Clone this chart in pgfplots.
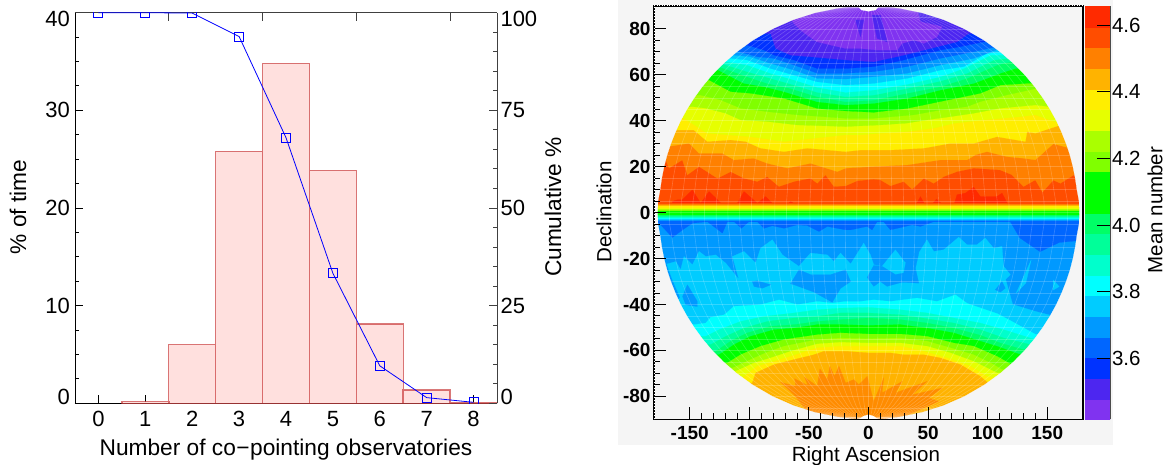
\documentclass[border=0pt]{standalone}
\usepackage{fontspec}
\setmainfont{Liberation Sans}
\usepackage{pgfplots}
\pgfplotsset{compat=1.18}
\usepackage{pgfplotstable}
\definecolor{bgg}{HTML}{F5F5F5}
\definecolor{barf}{HTML}{FFE0DE}
\definecolor{bare}{HTML}{C02020}
\definecolor{cA}{HTML}{8033F0}
\definecolor{cB}{HTML}{4D26F0}
\definecolor{cC}{HTML}{0033FF}
\definecolor{cD}{HTML}{0066FF}
\definecolor{cE}{HTML}{0099FF}
\definecolor{cF}{HTML}{00CCFF}
\definecolor{cG}{HTML}{00FFFF}
\definecolor{cH}{HTML}{00FFCC}
\definecolor{cI}{HTML}{00FF99}
\definecolor{cJ}{HTML}{00FF66}
\definecolor{cK}{HTML}{00FF00}
\definecolor{cL}{HTML}{00FF00}
\definecolor{cM}{HTML}{80FF00}
\definecolor{cN}{HTML}{AAFF00}
\definecolor{cO}{HTML}{E6FF00}
\definecolor{cP}{HTML}{FFEE00}
\definecolor{cQ}{HTML}{FFB300}
\definecolor{cR}{HTML}{FF8000}
\definecolor{cS}{HTML}{FF4D00}
\definecolor{cT}{HTML}{FF2A00}
\definecolor{cStar}{HTML}{FF8C00}
\newcommand\poly[2]{\addplot[fill=#1,draw=#1,line width=0.2pt,forget plot] coordinates {#2} --cycle;}
\newcommand\strip[3]{\addplot[fill=#1,draw=none,forget plot] coordinates {(-180,#2)(180,#2)(180,#3)(-180,#3)} --cycle;}
\pgfplotstableread{
x y
0 -90
26 -89
45 -87
63.2 -84
80.7 -80
97.3 -75
110.6 -70
121.7 -65
131.2 -60
139.3 -55
146.3 -50
152.4 -45
157.7 -40
162.1 -35
165.9 -30
169.1 -25
171.6 -20
173.5 -15
174.9 -10
176.7 -5
177 0
176.7 5
174.9 10
173.5 15
171.6 20
169.1 25
165.9 30
162.1 35
157.7 40
152.4 45
146.3 50
139.3 55
131.2 60
121.7 65
110.6 70
97.3 75
80.7 80
63.2 84
45 87
26 89
0 90
}\outline
\begin{document}
\begin{tikzpicture}[x=1pt,y=1pt]
\path[use as bounding box] (0,0) rectangle (1171,465);
\fill[bgg] (618,20) rectangle (1113,465);
% ---- left panel: bars
\begin{axis}[at={(75pt,61.7pt)},anchor=south west,scale only axis,width=422pt,height=390.6pt,
  xmin=-0.5,xmax=8.5,ymin=0,ymax=40,axis x line*=bottom,axis y line*=left,
  axis line style={black,line width=0.9pt},tick align=inside,
  xtick={0,1,2,3,4,5,6,7,8},xticklabels={0,1,2,3,4,5,6,7,8},
  ytick={0,10,20,30,40},yticklabels={\raisebox{0pt}[16pt][14pt]{0},10,20,30,\raisebox{0pt}[28pt][0pt]{40}},
  minor y tick num=3,
  major tick length=8pt,minor tick length=4.5pt,
  tick style={black,line width=0.9pt},
  tick label style={font=\fontsize{22}{26}\selectfont},
  label style={font=\fontsize{22.7}{27}\selectfont},
  xticklabel style={yshift=-8pt,inner ysep=0pt},yticklabel style={xshift=-1.5pt},
  xlabel={Number of co\kern0.5pt−\kern0.5ptpointing observatories},
  xlabel style={at={(axis description cs:0.5,-0.1195)},anchor=center,inner ysep=0pt},
  ylabel={\% of time},
  ylabel style={at={(axis description cs:-0.135,0.5026)},anchor=center},
]
\addplot[ybar,bar width=47pt,bar shift=0pt,fill=barf,draw=bare,draw opacity=0.6,line width=1.5pt]
 coordinates {(1,0.17)(2,6.0)(3,25.8)(4,34.8)(5,23.85)(6,8.1)(7,1.35)(8,0.1)};
\end{axis}
% ---- left panel: cumulative
\begin{axis}[at={(75pt,61.7pt)},anchor=south west,scale only axis,width=422pt,height=390.6pt,
  xmin=-0.5,xmax=8.5,ymin=0,ymax=100,axis x line*=top,axis y line*=right,
  axis line style={black!75,line width=0.9pt},tick align=inside,
  xtick={1.5,3.5,5.5,7.5},xticklabels={},
  ytick={0,25,50,75,100},yticklabels={\raisebox{0pt}[16pt][14pt]{0},25,50,75,\raisebox{0pt}[28pt][0pt]{100}},
  minor y tick num=4,
  major tick length=8pt,minor tick length=4.5pt,
  tick style={black!75,line width=0.9pt},
  tick label style={font=\fontsize{22}{26}\selectfont},
  label style={font=\fontsize{22.7}{27}\selectfont},
  ylabel={Cumulative \%},
  ylabel style={at={(axis description cs:1.133,0.5026)},anchor=center},
  clip marker paths=true,
]
\addplot[blue,line width=0.8pt,mark=square,mark size=4.5pt,mark options={line width=0.9pt,fill=none}]
 coordinates {(0,100)(1,100)(2,99.9)(3,93.9)(4,68)(5,33.3)(6,9.6)(7,1.45)(8,0.25)};
\end{axis}
% ---- right panel: map
\begin{axis}[at={(654pt,45.7pt)},anchor=south west,scale only axis,width=429pt,height=413.3pt,
  xmin=-180,xmax=180,ymin=-90,ymax=90,axis on top,
  axis line style={black,line width=1.3pt},tick align=inside,
  xtick={-150,-100,-50,0,50,100,150},xticklabels={-150,-100,-50,0,50,100,150},
  ytick={-80,-60,-40,-20,0,20,40,60,80},yticklabels={-80,-60,-40,-20,0,20,40,60,80},
  minor x tick num=4,minor y tick num=3,
  ytick pos=left,xtick pos=bottom,
  major tick length=12pt,minor tick length=6pt,
  tick style={black,line width=1pt},
  tick label style={font=\fontsize{19}{23}\selectfont\bfseries},
  label style={font=\fontsize{20.5}{25}\selectfont},
  xticklabel style={yshift=-3pt},
  xlabel={Right Ascension},
  xlabel style={at={(axis description cs:0.494,-0.0888)},anchor=center},
  ylabel={Declination},
  ylabel style={at={(axis description cs:-0.1166,0.5016)},anchor=center},
]
% north, painted from the equator towards the pole
\poly{cS}{(-180,0)(180,0)(180,90)(-180,90)}
\poly{cR}{(-180,23)(-170.1,23)(-167.3,19.4)(-156.2,23)(-152,16.5)(-142.2,20.1)(-126.8,15)(-115.6,17.9)(-104.5,15)(-93.3,13.6)(-84.9,15.7)(-75.1,11.4)(-62.5,13.6)(-48.6,15)(-43,12.8)(-36,16.5)(-29,11.4)(-19.2,11.7)(-9.5,13.9)(4.4,14.6)(10,14.3)(18.4,11.7)(29.6,13.6)(36.6,10.2)(46.4,15)(54.7,12.8)(63.1,15.7)(74.3,17.9)(88.3,19.4)(110.6,18.6)(120.4,16.5)(130.2,11.4)(140,14.3)(146,9)(155,14.2)(161,12.8)(174,17)(180,17)(180,90)(-180,90)}
\poly{cQ}{(-180,28.8)(-168.7,28.8)(-150.6,30.2)(-142.2,25.9)(-122.6,25.9)(-112.8,23)(-96.1,23.7)(-84.9,21.5)(-68.1,19.4)(-48.6,21.5)(-26.2,17.9)(-19.2,19.4)(4.4,20.1)(32.4,20.8)(60.3,23)(82.7,23)(89.7,25.2)(99.4,26.6)(116.2,24.4)(130.2,23.7)(140,23)(155,30)(170,28)(180,28)(180,90)(-180,90)}
\poly{cP}{(-180,36)(-161.7,36)(-146.4,36)(-135.2,31)(-115.6,31.7)(-103,31)(-90.5,28.1)(-70.9,26.6)(-51.4,28.1)(-19.2,26.6)(-6.7,27.3)(18.4,27.3)(46.4,28.1)(68.7,30.2)(88.3,30.2)(107.8,33.1)(131.6,31)(133,35.3)(140,34.6)(160,38)(180,38)(180,90)(-180,90)}
\poly{cO}{(-180,41.1)(-154.8,41.1)(-135.2,34.6)(-98.9,33.1)(-70.9,31)(-19.2,33.9)(-6.7,33.9)(10,34.6)(32.4,35.3)(54.7,36.8)(71.5,38.9)(96.6,40.4)(127.4,41.8)(140,42.6)(160,39)(180,39)(180,90)(-180,90)}
\poly{cN}{(-180,46.2)(-147.8,46.2)(-136.6,45.5)(-119.8,43.3)(-107.3,40.4)(-84.9,39.7)(-59.8,38.2)(-19.2,37.5)(10,38.2)(32.4,39)(49.1,40.4)(68.7,41.8)(88.3,43.3)(110.6,45.5)(140,46.9)(155,46)(180,46)(180,90)(-180,90)}
\poly{cM}{(-180,51.2)(-140.8,51.2)(-124,49.1)(-107.3,45.5)(-84.9,44)(-59.8,42.6)(-19.2,41.1)(4.4,41.1)(38,42.6)(60.3,44.7)(82.7,46.2)(93.9,48.4)(116.2,51.3)(140,54)(180,54)(180,90)(-180,90)}
\poly{cL}{(-180,57.8)(-133.8,57.8)(-115.6,52.7)(-98.9,52)(-70.9,49.8)(-43,45.4)(-19.2,44.3)(4.4,43.7)(32.4,45.4)(65.9,49)(93.9,52)(110.6,55.6)(133,56.3)(180,56.3)(180,90)(-180,90)}
\poly{cJ}{(-180,62.1)(-126,62.1)(-104.5,56.3)(-87.7,54.9)(-70.9,52.7)(-43,48.3)(-19.2,46.9)(4.4,47.6)(32.4,49.8)(60.3,53.4)(88.3,56.3)(110.6,60.7)(123.2,62.8)(180,62.8)(180,90)(-180,90)}
\poly{cI}{(-180,63.3)(-124,63.3)(-101.7,59.2)(-84.9,56.3)(-65.3,54.1)(-43,50.5)(-19.2,48.3)(4.4,49)(32.4,52)(60.3,54.9)(82.7,58.5)(107.8,64.3)(119,65.7)(180,65.7)(180,90)(-180,90)}
\poly{cH}{(-180,64.6)(-121.2,64.6)(-101.7,61.4)(-82.1,58.5)(-62.5,55.6)(-43,52.4)(-19.2,50.5)(4.4,51.2)(32.4,54.1)(60.3,57.3)(82.7,60.7)(105,66.5)(117.6,67.2)(180,67.2)(180,90)(-180,90)}
\poly{cG}{(-180,65.7)(-118.4,65.7)(-101.7,64.3)(-82.1,60.7)(-62.5,57.8)(-43,54.6)(-19.2,52.4)(4.4,53.4)(32.4,55.9)(60.3,59.2)(79.9,62.8)(102.2,68.6)(114.8,68.6)(180,68.6)(180,90)(-180,90)}
\poly{cF}{(-180,67.2)(-115.6,67.2)(-101.7,66.5)(-82.1,62.8)(-62.5,59.9)(-43,57)(-19.2,55.6)(4.4,56.3)(32.4,58.5)(60.3,62.1)(79.9,63.6)(99.4,69.4)(113.4,70.1)(180,70.1)(180,90)(-180,90)}
\poly{cE}{(-180,68.6)(-112.8,68.6)(-98.9,67.9)(-82.1,65)(-62.5,62.1)(-43,58.5)(-19.2,58.2)(4.4,59.2)(32.4,60.7)(60.3,64.3)(88.3,67.2)(110.6,71.5)(180,71.5)(180,90)(-180,90)}
\poly{cD}{(-180,70.1)(-108.7,70.1)(-93.3,67.9)(-79.3,67.2)(-62.5,64.3)(-43,60.7)(-19.2,60.7)(4.4,61.4)(32.4,63.6)(60.3,67.2)(88.3,70.1)(107.8,72.3)(180,72.3)(180,90)(-180,90)}
\poly{cC}{(-180,73)(-101.7,73)(-87.7,70.8)(-79.3,68.6)(-62.5,66.5)(-43,62.8)(-19.2,62.8)(4.4,63.6)(29.6,66.5)(60.3,70.8)(77.1,72.3)(96.6,74.4)(180,74.4)(180,90)(-180,90)}
\poly{cB}{(-180,78.1)(-82.1,78.1)(-77.9,71.5)(-65.3,68.6)(-48.6,67.9)(-19.2,66.5)(4.4,65.7)(29.6,68.6)(52,71.5)(74.3,74.4)(84.1,78.1)(180,78.1)(180,90)(-180,90)}
\poly{cA}{(-65,90)(-65.3,84.6)(-62.5,82.4)(-57,79.5)(-51.4,77.3)(-43,74.4)(-31.8,73)(-19.2,71.5)(-6.7,71.5)(7.2,70.8)(24,70.8)(28.2,73.7)(38,75.2)(46.4,73.7)(57.5,76.6)(61.7,81)(43.6,83.1)(40,90)}
\poly{cB}{(-11,83.9)(-4,83.9)(-6.7,76.6)}
\poly{cB}{(3,86)(10,86)(15.6,74.4)(7.2,75.9)}
% red patches north of the equator
\poly{cT}{(-164.5,3)(-164.5,4.9)(-160.3,5.6)(-156.2,5.6)(-147.8,9.9)(-140.8,4.1)(-133.8,9.2)(-125.4,4.9)(-122,3)}
\poly{cT}{(-110,3)(-110,4.1)(-104.5,9.2)(-93.3,4.1)(-86.3,7)(-78.8,3)}
\poly{cT}{(-69.5,3)(-65.4,4.9)(-59.8,3)}
\poly{cT}{(39.4,3)(43.6,7)(47.8,3)}
\poly{cT}{(52.5,3)(57,5.9)(63.1,3)}
\poly{cT}{(71.5,3)(74.3,7.8)(81.3,8.5)(88.3,11.1)(93.9,7)(107.8,7)(112,8.5)(117.6,3)}
% south, painted from the equator towards the pole
\poly{cE}{(-180,0)(180,0)(180,-90)(-180,-90)}
\poly{cD}{(-180,-4)(-177,-3.9)(-164.5,-10.8)(-156,-7.5)(-147.8,-4.6)(-135.2,-3.9)(-122.6,-8.9)(-118.4,-3.9)(-112.8,-3.9)(-106.7,-6.8)(-100.3,-3.9)(-93.3,-3.9)(-87.7,-6.8)(-80.7,-5.7)(-70.9,-6.8)(-59.8,-5.3)(-51.4,-5.6)(-41.6,-8.2)(-34.6,-6)(-19.2,-7.5)(-15,-7.5)(-1.1,-6)(3,-7.5)(7.2,-3.9)(11.4,-3.1)(18.4,-7.5)(36.6,-5.3)(43.6,-6)(54.7,-3.9)(79.9,-3.9)(119,-3.9)(127,-11)(144,-17)(160,-13)(180,-12)(180,-2)(-180,-2)}
\poly{cF}{(-180,-41)(-165,-40)(-158,-37)(-164.5,-29.2)(-169.3,-22.4)(-161.7,-21.3)(-157.6,-24.9)(-154.8,-19.1)(-147.8,-22.7)(-142.2,-16.9)(-136.6,-19.1)(-128.2,-18.4)(-119.8,-22)(-108.6,-29.2)(-114.2,-19.1)(-104.5,-16.9)(-94.7,-22)(-90.5,-15.5)(-80.7,-11.8)(-72.3,-18.4)(-58.4,-23.4)(-48.6,-17.6)(-34.6,-18.4)(-29,-21.3)(-23.5,-17.6)(-15,-22.4)(-4,-13.3)(1.6,-18.4)(4.4,-22.7)(11.4,-23.4)(22.6,-16.2)(31,-22)(33.8,-19)(42.2,-17.6)(49.1,-11.8)(54.7,-16.9)(63.1,-16.2)(75.7,-10.7)(82.7,-14)(91.1,-14)(98,-11.1)(105,-15.5)(112,-14.7)(113.4,-23.4)(119,-27)(115,-29)(121,-40)(140,-43)(155,-45)(180,-47)(180,-90)(-180,-90)}
\poly{cE}{(-152,-31.4)(-143.6,-38.7)(-143.6,-40.9)(-153.4,-40.1)(-156,-36.5)}
\poly{cE}{(-97.5,-30)(-93.3,-29.7)(-82,-31.4)(-89,-32.9)(-96,-32.2)}
\poly{cE}{(-65.4,-31)(-58.4,-24.9)(-48.6,-27)(-31.8,-27)(-19.2,-24.9)(-15,-30)(-23.5,-33)(-30.4,-39)(-45.8,-34.6)(-62.5,-31.4)}
\poly{cE}{(4.4,-23)(11.4,-23.4)(22.6,-27)(29.6,-26.3)(31.5,-21.3)(33.8,-15.5)(42.2,-17.6)(39.4,-24.2)(42.2,-30.7)(28.2,-30.3)(15.6,-32.1)(10,-30)(4.4,-32.1)(-1.1,-28.2)}
\poly{cE}{(106.4,-33.6)(112,-30)(114.8,-32.9)(110.6,-34.6)}
\poly{cF}{(136.5,-20.6)(124,-35)(132,-30.7)}
\poly{cF}{(155,-29.3)(160,-32.2)(155,-33.7)}
\poly{cG}{(-180,-48.8)(-146.4,-48.8)(-136.6,-48.1)(-132.4,-45.6)(-121,-44.5)(-112.8,-40.8)(-90.5,-40.1)(-75,-38)(-59.8,-40.1)(-43,-38.7)(-30.4,-39.4)(-19.2,-38.7)(-6.7,-38.7)(4.4,-38)(18.4,-38.7)(40.8,-37.2)(57.5,-38.7)(72.9,-35.8)(82.7,-39.5)(91,-41)(108,-44)(119,-47)(140,-53)(180,-53)(180,-90)(-180,-90)}
\poly{cH}{(-180,-53.9)(-136.6,-53.9)(-125.4,-51)(-107.3,-47.4)(-87.7,-45.2)(-62.5,-43.7)(-43,-42.3)(-23.5,-41.6)(0,-41.3)(26.8,-42.3)(49.1,-43.7)(71.5,-45.9)(93.8,-48.1)(113.4,-51)(140,-55.3)(180,-55.3)(180,-90)(-180,-90)}
\poly{cI}{(-180,-57.5)(-132.4,-57.5)(-119.8,-53.9)(-104.5,-50.3)(-84.9,-47.4)(-62.5,-45.9)(-43,-45.2)(-23.5,-43.7)(0,-43.7)(26.8,-44.5)(49.1,-46.2)(71.5,-48.1)(93.8,-51)(113.4,-54.6)(135.8,-57.5)(180,-57.5)(180,-90)(-180,-90)}
\poly{cJ}{(-180,-60.4)(-128.2,-60.4)(-115.6,-56)(-101.7,-52.4)(-82.1,-49.5)(-62.5,-48.8)(-43,-47.4)(-23.5,-46.6)(0,-45.9)(26.8,-46.6)(49.1,-48.1)(71.5,-50.3)(93.8,-53.4)(110.6,-56.8)(130.2,-59.7)(180,-59.7)(180,-90)(-180,-90)}
\poly{cK}{(-180,-61.9)(-125.4,-61.9)(-112.8,-57.5)(-98.9,-53.9)(-79.3,-51)(-62.5,-50.3)(-43,-48.8)(-23.5,-48.8)(0,-49.1)(26.8,-48.8)(49.1,-50.3)(71.5,-52.4)(93.8,-56)(107.8,-58.2)(126,-61.6)(180,-61.6)(180,-90)(-180,-90)}
\poly{cM}{(-180,-65.5)(-118.4,-65.5)(-107.3,-61.9)(-90.5,-58.2)(-70.9,-55.3)(-43,-53.2)(-23.5,-52.4)(0,-52.9)(26.8,-52.9)(49.1,-53.9)(71.5,-56.8)(88.3,-58.2)(107.8,-62.6)(119,-65.9)(180,-65.9)(180,-90)(-180,-90)}
\poly{cN}{(-180,-67.7)(-114.2,-67.7)(-98.9,-64)(-86.3,-61.1)(-70.9,-58.2)(-43,-55.3)(-23.5,-54.6)(0,-54.9)(26.8,-54.6)(49.1,-56)(68.7,-58.9)(88.3,-61.9)(105,-66.2)(112,-68.4)(180,-68.4)(180,-90)(-180,-90)}
\poly{cO}{(-180,-69.1)(-111.4,-69.1)(-96.1,-65.5)(-82.1,-63.3)(-65.3,-60.4)(-43,-57.2)(-23.5,-56.5)(0,-56.8)(26.8,-56.8)(49.1,-58.2)(68.7,-61.1)(88.3,-64.8)(102.2,-68.4)(107.8,-69.8)(180,-69.8)(180,-90)(-180,-90)}
\poly{cP}{(-180,-72)(-105.9,-72)(-93.3,-66.9)(-79.3,-64.8)(-65.3,-62.6)(-43,-58.9)(-23.5,-58.2)(0,-58.2)(26.8,-58.2)(46.4,-60.4)(65.9,-63.3)(85.5,-66.9)(99.4,-71.3)(103.6,-72)(180,-72)(180,-90)(-180,-90)}
\poly{cQ}{(-180,-74.2)(-97.5,-74.2)(-94.7,-69.8)(-79.3,-66.2)(-62.5,-64)(-45.8,-61.9)(-37.4,-60.4)(-19,-60.4)(0,-61.1)(18.4,-61.1)(29.6,-61.9)(46.4,-61.9)(60.3,-63.3)(77.1,-66.2)(93.8,-71.3)(99.4,-73.8)(180,-73.8)(180,-90)(-180,-90)}
\poly{cStar}{(-51.4,-90)(-51.4,-86.5)(-62.5,-79.3)(-73.7,-73.9)(-61.1,-75.6)(-62,-72.3)(-50.8,-75.3)(-53.6,-71.7)(-43,-75.6)(-40.8,-68)(-34.6,-72.7)(-32.4,-66.9)(-28.5,-71.3)(-24.8,-66.9)(-19.2,-74.2)(-12.3,-72.7)(-8.1,-74.9)(-1.1,-71.3)(4.4,-82.2)(12.8,-72)(11.4,-78.5)(28.2,-73.5)(22.6,-78.5)(49.1,-73.5)(36.6,-79.3)(61.7,-76.4)(50.5,-80.7)(58.9,-82.2)(46.4,-85.1)(26.8,-89.4)(26.8,-90)}
% the narrow band at the equator
\strip{cS}{4.2}{3.8}
\strip{cR}{3.8}{3.2}
\strip{cQ}{3.2}{2.7}
\strip{cP}{2.7}{2.1}
\strip{cO}{2.1}{1.6}
\strip{cN}{1.6}{1.2}
\strip{cM}{1.2}{0.8}
\strip{cK}{0.8}{-1.1}
\strip{cJ}{-1.1}{-1.5}
\strip{cI}{-1.5}{-1.9}
\strip{cH}{-1.9}{-2.3}
\strip{cG}{-2.3}{-2.7}
\strip{cF}{-2.7}{-3.1}
\strip{cE}{-3.1}{-3.5}
\strip{cD}{-3.5}{-4.0}
% faint grid of the map
\pgfplotsinvokeforeach{-85,-80,...,85}{\addplot[white,opacity=0.2,line width=0.6pt,forget plot] coordinates {(-180,#1)(180,#1)};}
\pgfplotsinvokeforeach{-170,-160,...,170}{\addplot[white,opacity=0.2,line width=0.6pt,forget plot] table[x expr=\thisrow{x}*#1/180,y=y] {\outline};}
% outside of the disc
\poly{bgg}{(0,90)(9,90)(26,89)(45,87)(63.2,84)(80.7,80)(97.3,75)(110.6,70)(121.7,65)(131.2,60)(139.3,55)(146.3,50)(152.4,45)(157.7,40)(162.1,35)(165.9,30)(169.1,25)(171.6,20)(173.5,15)(174.9,10)(176.7,5)(177,0)(176.7,-5)(174.9,-10)(173.5,-15)(171.6,-20)(169.1,-25)(165.9,-30)(162.1,-35)(157.7,-40)(152.4,-45)(146.3,-50)(139.3,-55)(131.2,-60)(121.7,-65)(110.6,-70)(97.3,-75)(80.7,-80)(63.2,-84)(45,-87)(26,-89)(9,-90)(180,-90)(180,90)}
\poly{bgg}{(-9,90)(-26,89)(-45,87)(-63.2,84)(-80.7,80)(-97.3,75)(-110.6,70)(-121.7,65)(-131.2,60)(-139.3,55)(-146.3,50)(-152.4,45)(-157.7,40)(-162.1,35)(-165.9,30)(-169.1,25)(-171.6,20)(-173.5,15)(-174.9,10)(-176.7,5)(-177,0)(-176.7,-5)(-174.9,-10)(-173.5,-15)(-171.6,-20)(-169.1,-25)(-165.9,-30)(-162.1,-35)(-157.7,-40)(-152.4,-45)(-146.3,-50)(-139.3,-55)(-131.2,-60)(-121.7,-65)(-110.6,-70)(-97.3,-75)(-80.7,-80)(-63.2,-84)(-45,-87)(-26,-89)(-9,-90)(-180,-90)(-180,90)}
\poly{white}{(-9,90)(-6,88.3)(0,87.7)(6,88.3)(9,90)}
\poly{white}{(-8,-90)(-4,-88.6)(0,-88)(4,-88.6)(8,-90)}
\end{axis}
\draw[white,line width=0.5pt,dash pattern=on 1pt off 1.5pt] (654,459.3) -- (1083,459.3);
\draw[white,line width=0.4pt,dash pattern=on 1pt off 2pt] (654,45.7) -- (654,459.3);
% ---- colour bar
\begin{axis}[at={(1085pt,45.7pt)},anchor=south west,scale only axis,width=25pt,height=413.3pt,
  xmin=0,xmax=1,ymin=3.417,ymax=4.657,axis on top,
  axis x line=none,axis y line*=right,
  ytick={3.6,3.8,4.0,4.2,4.4,4.6},yticklabels={3.6,3.8,4.0,4.2,4.4,4.6},
  tick align=inside,
  major tick length=13pt,tick style={black,line width=0.9pt},
  axis line style={black!70,line width=1pt},
  tick label style={font=\fontsize{20.5}{25}\selectfont},
  yticklabel style={xshift=-1.5pt},
  label style={font=\fontsize{20.5}{25}\selectfont},
  ylabel={Mean number},
  ylabel style={at={(axis description cs:2.8,0.5064)},anchor=center},
]
\poly{cA}{(0,3.417)(1,3.417)(1,3.479)(0,3.479)}
\poly{cB}{(0,3.479)(1,3.479)(1,3.541)(0,3.541)}
\poly{cC}{(0,3.541)(1,3.541)(1,3.603)(0,3.603)}
\poly{cD}{(0,3.603)(1,3.603)(1,3.665)(0,3.665)}
\poly{cE}{(0,3.665)(1,3.665)(1,3.727)(0,3.727)}
\poly{cF}{(0,3.727)(1,3.727)(1,3.789)(0,3.789)}
\poly{cG}{(0,3.789)(1,3.789)(1,3.851)(0,3.851)}
\poly{cH}{(0,3.851)(1,3.851)(1,3.913)(0,3.913)}
\poly{cI}{(0,3.913)(1,3.913)(1,3.975)(0,3.975)}
\poly{cJ}{(0,3.975)(1,3.975)(1,4.037)(0,4.037)}
\poly{cK}{(0,4.037)(1,4.037)(1,4.099)(0,4.099)}
\poly{cL}{(0,4.099)(1,4.099)(1,4.161)(0,4.161)}
\poly{cM}{(0,4.161)(1,4.161)(1,4.223)(0,4.223)}
\poly{cN}{(0,4.223)(1,4.223)(1,4.285)(0,4.285)}
\poly{cO}{(0,4.285)(1,4.285)(1,4.347)(0,4.347)}
\poly{cP}{(0,4.347)(1,4.347)(1,4.409)(0,4.409)}
\poly{cQ}{(0,4.409)(1,4.409)(1,4.471)(0,4.471)}
\poly{cR}{(0,4.471)(1,4.471)(1,4.533)(0,4.533)}
\poly{cS}{(0,4.533)(1,4.533)(1,4.595)(0,4.595)}
\poly{cT}{(0,4.595)(1,4.595)(1,4.657)(0,4.657)}
\end{axis}
\end{tikzpicture}
\end{document}
